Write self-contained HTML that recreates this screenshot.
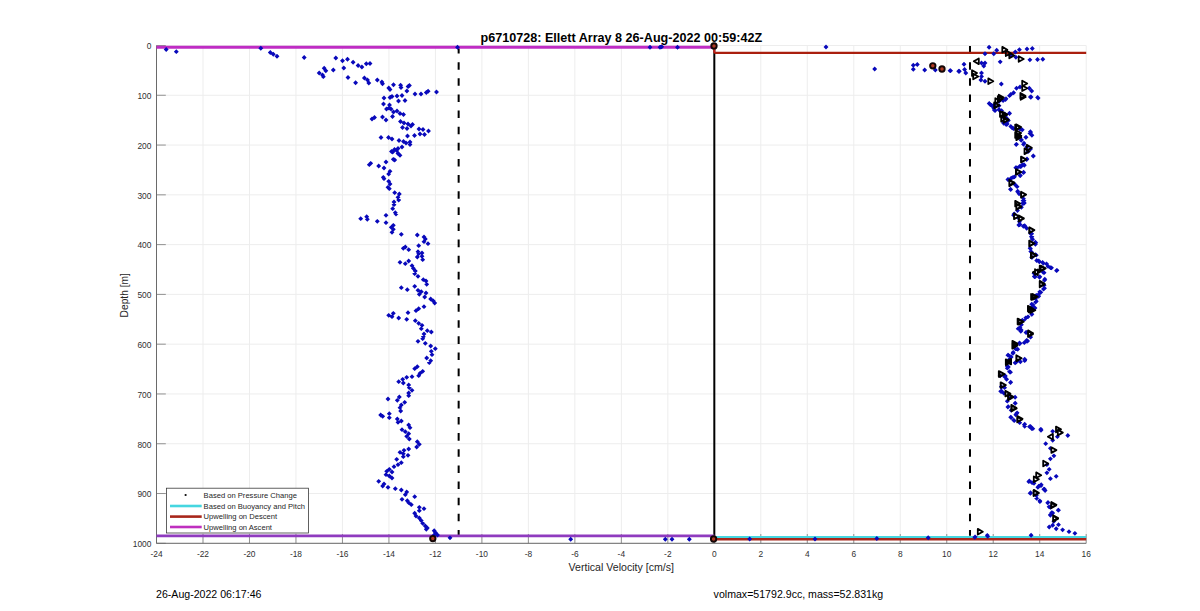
<!DOCTYPE html>
<html><head><meta charset="utf-8"><style>
html,body{margin:0;padding:0;background:#fff;}
svg{display:block;font-family:"Liberation Sans",sans-serif;}
</style></head><body>
<svg width="1200" height="611" viewBox="0 0 1200 611">
<path d="M156.50 45.50V543.30M202.99 45.50V543.30M249.47 45.50V543.30M295.96 45.50V543.30M342.44 45.50V543.30M388.93 45.50V543.30M435.41 45.50V543.30M481.90 45.50V543.30M528.38 45.50V543.30M574.87 45.50V543.30M621.35 45.50V543.30M667.84 45.50V543.30M714.32 45.50V543.30M760.81 45.50V543.30M807.29 45.50V543.30M853.77 45.50V543.30M900.26 45.50V543.30M946.75 45.50V543.30M993.23 45.50V543.30M1039.71 45.50V543.30M1086.20 45.50V543.30M156.50 45.50H1086.20M156.50 95.28H1086.20M156.50 145.06H1086.20M156.50 194.84H1086.20M156.50 244.62H1086.20M156.50 294.40H1086.20M156.50 344.18H1086.20M156.50 393.96H1086.20M156.50 443.74H1086.20M156.50 493.52H1086.20M156.50 543.30H1086.20" stroke="#ededed" stroke-width="1" fill="none"/>
<path d="M156.50 543.30v-9.3M202.99 543.30v-9.3M249.47 543.30v-9.3M295.96 543.30v-9.3M342.44 543.30v-9.3M388.93 543.30v-9.3M435.41 543.30v-9.3M481.90 543.30v-9.3M528.38 543.30v-9.3M574.87 543.30v-9.3M621.35 543.30v-9.3M667.84 543.30v-9.3M714.32 543.30v-9.3M760.81 543.30v-9.3M807.29 543.30v-9.3M853.77 543.30v-9.3M900.26 543.30v-9.3M946.75 543.30v-9.3M993.23 543.30v-9.3M1039.71 543.30v-9.3M1086.20 543.30v-9.3M156.50 45.50h9.3M156.50 95.28h9.3M156.50 145.06h9.3M156.50 194.84h9.3M156.50 244.62h9.3M156.50 294.40h9.3M156.50 344.18h9.3M156.50 393.96h9.3M156.50 443.74h9.3M156.50 493.52h9.3M156.50 543.30h9.3" stroke="#7a7a7a" stroke-width="0.8" fill="none"/>
<path d="M156.50 45.50V543.30H1086.20" stroke="#6a6a6a" stroke-width="1" fill="none"/>
<g font-size="8.4" fill="#303030"><text x="156.50" y="556.6" text-anchor="middle">-24</text><text x="202.99" y="556.6" text-anchor="middle">-22</text><text x="249.47" y="556.6" text-anchor="middle">-20</text><text x="295.96" y="556.6" text-anchor="middle">-18</text><text x="342.44" y="556.6" text-anchor="middle">-16</text><text x="388.93" y="556.6" text-anchor="middle">-14</text><text x="435.41" y="556.6" text-anchor="middle">-12</text><text x="481.90" y="556.6" text-anchor="middle">-10</text><text x="528.38" y="556.6" text-anchor="middle">-8</text><text x="574.87" y="556.6" text-anchor="middle">-6</text><text x="621.35" y="556.6" text-anchor="middle">-4</text><text x="667.84" y="556.6" text-anchor="middle">-2</text><text x="714.32" y="556.6" text-anchor="middle">0</text><text x="760.81" y="556.6" text-anchor="middle">2</text><text x="807.29" y="556.6" text-anchor="middle">4</text><text x="853.77" y="556.6" text-anchor="middle">6</text><text x="900.26" y="556.6" text-anchor="middle">8</text><text x="946.75" y="556.6" text-anchor="middle">10</text><text x="993.23" y="556.6" text-anchor="middle">12</text><text x="1039.71" y="556.6" text-anchor="middle">14</text><text x="1086.20" y="556.6" text-anchor="middle">16</text><text x="151.4" y="49.30" text-anchor="end">0</text><text x="151.4" y="99.08" text-anchor="end">100</text><text x="151.4" y="148.86" text-anchor="end">200</text><text x="151.4" y="198.64" text-anchor="end">300</text><text x="151.4" y="248.42" text-anchor="end">400</text><text x="151.4" y="298.20" text-anchor="end">500</text><text x="151.4" y="347.98" text-anchor="end">600</text><text x="151.4" y="397.76" text-anchor="end">700</text><text x="151.4" y="447.54" text-anchor="end">800</text><text x="151.4" y="497.32" text-anchor="end">900</text><text x="151.4" y="547.10" text-anchor="end">1000</text></g>
<text x="621.3" y="570.8" font-size="10.6" text-anchor="middle" fill="#262626">Vertical Velocity [cm/s]</text>
<text transform="translate(127.6 295.3) rotate(-90)" font-size="10.2" text-anchor="middle" fill="#262626">Depth [m]</text>
<text x="621.3" y="41.5" font-size="12.6" font-weight="bold" text-anchor="middle" fill="#000">p6710728: Ellett Array 8 26-Aug-2022 00:59:42Z</text>
<text x="156" y="598.2" font-size="10.6" fill="#000">26-Aug-2022 06:17:46</text>
<text x="713.6" y="598.2" font-size="10.6" fill="#000">volmax=51792.9cc, mass=52.831kg</text>
<path d="M458.65 46.00V535.83" stroke="#000" stroke-width="2" stroke-dasharray="7.6 8.53" fill="none"/>
<path d="M969.99 46.00V535.83" stroke="#000" stroke-width="2" stroke-dasharray="7.6 8.53" fill="none"/>
<path d="M714.32 45.50V535.83" stroke="#000" stroke-width="2" fill="none"/>
<path d="M156.50 47.29H714.32" stroke="#bf2cc4" stroke-width="3" fill="none"/>
<path d="M714.32 52.97H1086.20" stroke="#aa1f0e" stroke-width="2.2" fill="none"/>
<path d="M156.50 535.83H714.32" stroke="#8f3bbf" stroke-width="2.8" fill="none"/>
<path d="M714.32 537.08H1086.20" stroke="#45d6e0" stroke-width="2.4" fill="none"/>
<path d="M714.32 539.32H1086.20" stroke="#a8261a" stroke-width="2.4" fill="none"/>
<path d="M714.32 47.29V52.97" stroke="#c0201a" stroke-width="2" fill="none"/>
<path d="M166.2 47.0l2.45 2.45l-2.45 2.45l-2.45 -2.45zM176.3 49.2l2.45 2.45l-2.45 2.45l-2.45 -2.45zM260.8 45.8l2.45 2.45l-2.45 2.45l-2.45 -2.45zM270.3 50.0l2.45 2.45l-2.45 2.45l-2.45 -2.45zM273.3 51.8l2.45 2.45l-2.45 2.45l-2.45 -2.45zM277.0 53.8l2.45 2.45l-2.45 2.45l-2.45 -2.45zM304.2 55.0l2.45 2.45l-2.45 2.45l-2.45 -2.45zM335.8 55.5l2.45 2.45l-2.45 2.45l-2.45 -2.45zM342.5 58.3l2.45 2.45l-2.45 2.45l-2.45 -2.45zM347.5 56.8l2.45 2.45l-2.45 2.45l-2.45 -2.45zM343.8 65.5l2.45 2.45l-2.45 2.45l-2.45 -2.45zM333.3 67.5l2.45 2.45l-2.45 2.45l-2.45 -2.45zM324.2 65.8l2.45 2.45l-2.45 2.45l-2.45 -2.45zM325.8 68.3l2.45 2.45l-2.45 2.45l-2.45 -2.45zM319.2 70.5l2.45 2.45l-2.45 2.45l-2.45 -2.45zM322.5 72.5l2.45 2.45l-2.45 2.45l-2.45 -2.45zM323.3 74.2l2.45 2.45l-2.45 2.45l-2.45 -2.45zM348.0 75.0l2.45 2.45l-2.45 2.45l-2.45 -2.45zM353.1 59.8l2.45 2.45l-2.45 2.45l-2.45 -2.45zM358.1 63.1l2.45 2.45l-2.45 2.45l-2.45 -2.45zM361.9 64.5l2.45 2.45l-2.45 2.45l-2.45 -2.45zM366.3 61.3l2.45 2.45l-2.45 2.45l-2.45 -2.45zM370.0 61.0l2.45 2.45l-2.45 2.45l-2.45 -2.45zM355.6 80.3l2.45 2.45l-2.45 2.45l-2.45 -2.45zM364.4 75.6l2.45 2.45l-2.45 2.45l-2.45 -2.45zM367.5 77.5l2.45 2.45l-2.45 2.45l-2.45 -2.45zM368.8 80.6l2.45 2.45l-2.45 2.45l-2.45 -2.45zM377.3 77.5l2.45 2.45l-2.45 2.45l-2.45 -2.45zM381.9 79.5l2.45 2.45l-2.45 2.45l-2.45 -2.45zM382.5 81.3l2.45 2.45l-2.45 2.45l-2.45 -2.45zM388.8 85.6l2.45 2.45l-2.45 2.45l-2.45 -2.45zM390.0 87.0l2.45 2.45l-2.45 2.45l-2.45 -2.45zM393.5 82.3l2.45 2.45l-2.45 2.45l-2.45 -2.45zM400.6 82.8l2.45 2.45l-2.45 2.45l-2.45 -2.45zM401.0 85.0l2.45 2.45l-2.45 2.45l-2.45 -2.45zM408.1 84.0l2.45 2.45l-2.45 2.45l-2.45 -2.45zM409.4 83.1l2.45 2.45l-2.45 2.45l-2.45 -2.45zM406.9 88.5l2.45 2.45l-2.45 2.45l-2.45 -2.45zM415.0 91.5l2.45 2.45l-2.45 2.45l-2.45 -2.45zM421.0 91.5l2.45 2.45l-2.45 2.45l-2.45 -2.45zM426.3 90.0l2.45 2.45l-2.45 2.45l-2.45 -2.45zM428.1 88.8l2.45 2.45l-2.45 2.45l-2.45 -2.45zM436.5 89.5l2.45 2.45l-2.45 2.45l-2.45 -2.45zM457.5 44.8l2.45 2.45l-2.45 2.45l-2.45 -2.45zM384.0 95.5l2.45 2.45l-2.45 2.45l-2.45 -2.45zM390.0 95.0l2.45 2.45l-2.45 2.45l-2.45 -2.45zM392.0 94.0l2.45 2.45l-2.45 2.45l-2.45 -2.45zM397.0 93.5l2.45 2.45l-2.45 2.45l-2.45 -2.45zM402.0 93.0l2.45 2.45l-2.45 2.45l-2.45 -2.45zM398.5 98.5l2.45 2.45l-2.45 2.45l-2.45 -2.45zM405.0 98.0l2.45 2.45l-2.45 2.45l-2.45 -2.45zM383.5 101.5l2.45 2.45l-2.45 2.45l-2.45 -2.45zM389.5 102.5l2.45 2.45l-2.45 2.45l-2.45 -2.45zM389.0 105.5l2.45 2.45l-2.45 2.45l-2.45 -2.45zM386.5 106.5l2.45 2.45l-2.45 2.45l-2.45 -2.45zM391.0 106.5l2.45 2.45l-2.45 2.45l-2.45 -2.45zM393.5 109.5l2.45 2.45l-2.45 2.45l-2.45 -2.45zM397.0 108.5l2.45 2.45l-2.45 2.45l-2.45 -2.45zM400.0 111.0l2.45 2.45l-2.45 2.45l-2.45 -2.45zM403.5 112.0l2.45 2.45l-2.45 2.45l-2.45 -2.45zM392.5 114.0l2.45 2.45l-2.45 2.45l-2.45 -2.45zM382.5 114.5l2.45 2.45l-2.45 2.45l-2.45 -2.45zM386.0 117.5l2.45 2.45l-2.45 2.45l-2.45 -2.45zM372.0 116.5l2.45 2.45l-2.45 2.45l-2.45 -2.45zM374.5 115.0l2.45 2.45l-2.45 2.45l-2.45 -2.45zM400.5 119.0l2.45 2.45l-2.45 2.45l-2.45 -2.45zM404.0 120.5l2.45 2.45l-2.45 2.45l-2.45 -2.45zM408.0 121.5l2.45 2.45l-2.45 2.45l-2.45 -2.45zM411.0 123.5l2.45 2.45l-2.45 2.45l-2.45 -2.45zM412.5 122.0l2.45 2.45l-2.45 2.45l-2.45 -2.45zM402.5 125.0l2.45 2.45l-2.45 2.45l-2.45 -2.45zM407.0 126.0l2.45 2.45l-2.45 2.45l-2.45 -2.45zM419.0 126.5l2.45 2.45l-2.45 2.45l-2.45 -2.45zM423.0 127.0l2.45 2.45l-2.45 2.45l-2.45 -2.45zM428.5 128.6l2.45 2.45l-2.45 2.45l-2.45 -2.45zM420.0 131.6l2.45 2.45l-2.45 2.45l-2.45 -2.45zM424.5 132.1l2.45 2.45l-2.45 2.45l-2.45 -2.45zM414.5 133.1l2.45 2.45l-2.45 2.45l-2.45 -2.45zM407.5 133.6l2.45 2.45l-2.45 2.45l-2.45 -2.45zM381.0 135.1l2.45 2.45l-2.45 2.45l-2.45 -2.45zM388.5 135.1l2.45 2.45l-2.45 2.45l-2.45 -2.45zM392.0 136.6l2.45 2.45l-2.45 2.45l-2.45 -2.45zM399.0 138.1l2.45 2.45l-2.45 2.45l-2.45 -2.45zM403.5 139.1l2.45 2.45l-2.45 2.45l-2.45 -2.45zM406.0 140.6l2.45 2.45l-2.45 2.45l-2.45 -2.45zM410.0 139.6l2.45 2.45l-2.45 2.45l-2.45 -2.45zM410.0 142.1l2.45 2.45l-2.45 2.45l-2.45 -2.45zM402.0 144.6l2.45 2.45l-2.45 2.45l-2.45 -2.45zM398.0 146.1l2.45 2.45l-2.45 2.45l-2.45 -2.45zM394.5 147.1l2.45 2.45l-2.45 2.45l-2.45 -2.45zM391.5 149.1l2.45 2.45l-2.45 2.45l-2.45 -2.45zM398.0 151.1l2.45 2.45l-2.45 2.45l-2.45 -2.45zM392.7 149.6l2.45 2.45l-2.45 2.45l-2.45 -2.45zM396.7 148.2l2.45 2.45l-2.45 2.45l-2.45 -2.45zM400.0 152.9l2.45 2.45l-2.45 2.45l-2.45 -2.45zM398.7 151.6l2.45 2.45l-2.45 2.45l-2.45 -2.45zM393.3 156.9l2.45 2.45l-2.45 2.45l-2.45 -2.45zM394.7 157.6l2.45 2.45l-2.45 2.45l-2.45 -2.45zM386.0 159.6l2.45 2.45l-2.45 2.45l-2.45 -2.45zM370.7 160.9l2.45 2.45l-2.45 2.45l-2.45 -2.45zM369.3 162.2l2.45 2.45l-2.45 2.45l-2.45 -2.45zM378.7 163.6l2.45 2.45l-2.45 2.45l-2.45 -2.45zM384.0 165.6l2.45 2.45l-2.45 2.45l-2.45 -2.45zM390.0 168.9l2.45 2.45l-2.45 2.45l-2.45 -2.45zM388.7 171.6l2.45 2.45l-2.45 2.45l-2.45 -2.45zM383.3 174.9l2.45 2.45l-2.45 2.45l-2.45 -2.45zM384.0 176.2l2.45 2.45l-2.45 2.45l-2.45 -2.45zM388.7 178.9l2.45 2.45l-2.45 2.45l-2.45 -2.45zM390.0 181.6l2.45 2.45l-2.45 2.45l-2.45 -2.45zM388.0 184.9l2.45 2.45l-2.45 2.45l-2.45 -2.45zM389.3 186.2l2.45 2.45l-2.45 2.45l-2.45 -2.45zM394.7 190.2l2.45 2.45l-2.45 2.45l-2.45 -2.45zM399.3 191.6l2.45 2.45l-2.45 2.45l-2.45 -2.45zM398.0 194.9l2.45 2.45l-2.45 2.45l-2.45 -2.45zM398.7 197.6l2.45 2.45l-2.45 2.45l-2.45 -2.45zM394.0 199.6l2.45 2.45l-2.45 2.45l-2.45 -2.45zM394.0 202.2l2.45 2.45l-2.45 2.45l-2.45 -2.45zM392.7 206.2l2.45 2.45l-2.45 2.45l-2.45 -2.45zM395.3 210.2l2.45 2.45l-2.45 2.45l-2.45 -2.45zM396.0 211.6l2.45 2.45l-2.45 2.45l-2.45 -2.45zM386.0 212.9l2.45 2.45l-2.45 2.45l-2.45 -2.45zM360.7 216.2l2.45 2.45l-2.45 2.45l-2.45 -2.45zM366.7 214.2l2.45 2.45l-2.45 2.45l-2.45 -2.45zM367.3 216.9l2.45 2.45l-2.45 2.45l-2.45 -2.45zM377.3 218.9l2.45 2.45l-2.45 2.45l-2.45 -2.45zM386.0 220.2l2.45 2.45l-2.45 2.45l-2.45 -2.45zM393.3 222.9l2.45 2.45l-2.45 2.45l-2.45 -2.45zM391.3 224.9l2.45 2.45l-2.45 2.45l-2.45 -2.45zM393.3 226.9l2.45 2.45l-2.45 2.45l-2.45 -2.45zM392.0 229.9l2.45 2.45l-2.45 2.45l-2.45 -2.45zM401.3 231.9l2.45 2.45l-2.45 2.45l-2.45 -2.45zM417.3 232.6l2.45 2.45l-2.45 2.45l-2.45 -2.45zM424.0 234.6l2.45 2.45l-2.45 2.45l-2.45 -2.45zM425.3 236.6l2.45 2.45l-2.45 2.45l-2.45 -2.45zM424.0 239.2l2.45 2.45l-2.45 2.45l-2.45 -2.45zM428.0 241.2l2.45 2.45l-2.45 2.45l-2.45 -2.45zM418.7 243.2l2.45 2.45l-2.45 2.45l-2.45 -2.45zM403.3 245.9l2.45 2.45l-2.45 2.45l-2.45 -2.45zM405.3 244.6l2.45 2.45l-2.45 2.45l-2.45 -2.45zM408.7 247.2l2.45 2.45l-2.45 2.45l-2.45 -2.45zM418.0 249.2l2.45 2.45l-2.45 2.45l-2.45 -2.45zM422.0 250.6l2.45 2.45l-2.45 2.45l-2.45 -2.45zM418.7 251.2l2.45 2.45l-2.45 2.45l-2.45 -2.45zM422.0 253.9l2.45 2.45l-2.45 2.45l-2.45 -2.45zM417.3 254.6l2.45 2.45l-2.45 2.45l-2.45 -2.45zM422.7 257.2l2.45 2.45l-2.45 2.45l-2.45 -2.45zM400.0 259.9l2.45 2.45l-2.45 2.45l-2.45 -2.45zM405.3 261.2l2.45 2.45l-2.45 2.45l-2.45 -2.45zM408.7 258.6l2.45 2.45l-2.45 2.45l-2.45 -2.45zM412.0 263.2l2.45 2.45l-2.45 2.45l-2.45 -2.45zM413.3 265.9l2.45 2.45l-2.45 2.45l-2.45 -2.45zM415.3 268.6l2.45 2.45l-2.45 2.45l-2.45 -2.45zM414.7 271.2l2.45 2.45l-2.45 2.45l-2.45 -2.45zM418.0 273.9l2.45 2.45l-2.45 2.45l-2.45 -2.45zM423.3 277.2l2.45 2.45l-2.45 2.45l-2.45 -2.45zM426.0 278.6l2.45 2.45l-2.45 2.45l-2.45 -2.45zM426.7 281.9l2.45 2.45l-2.45 2.45l-2.45 -2.45zM401.3 285.2l2.45 2.45l-2.45 2.45l-2.45 -2.45zM407.3 287.2l2.45 2.45l-2.45 2.45l-2.45 -2.45zM414.7 283.9l2.45 2.45l-2.45 2.45l-2.45 -2.45zM418.0 287.9l2.45 2.45l-2.45 2.45l-2.45 -2.45zM421.3 289.2l2.45 2.45l-2.45 2.45l-2.45 -2.45zM426.0 290.6l2.45 2.45l-2.45 2.45l-2.45 -2.45zM419.3 291.9l2.45 2.45l-2.45 2.45l-2.45 -2.45zM424.7 294.6l2.45 2.45l-2.45 2.45l-2.45 -2.45zM430.7 296.6l2.45 2.45l-2.45 2.45l-2.45 -2.45zM433.3 298.6l2.45 2.45l-2.45 2.45l-2.45 -2.45zM434.7 300.6l2.45 2.45l-2.45 2.45l-2.45 -2.45zM424.0 304.2l2.45 2.45l-2.45 2.45l-2.45 -2.45zM418.7 306.2l2.45 2.45l-2.45 2.45l-2.45 -2.45zM416.0 308.2l2.45 2.45l-2.45 2.45l-2.45 -2.45zM408.0 310.2l2.45 2.45l-2.45 2.45l-2.45 -2.45zM393.3 310.9l2.45 2.45l-2.45 2.45l-2.45 -2.45zM388.7 312.9l2.45 2.45l-2.45 2.45l-2.45 -2.45zM392.0 314.2l2.45 2.45l-2.45 2.45l-2.45 -2.45zM398.7 315.6l2.45 2.45l-2.45 2.45l-2.45 -2.45zM406.7 316.9l2.45 2.45l-2.45 2.45l-2.45 -2.45zM415.3 318.2l2.45 2.45l-2.45 2.45l-2.45 -2.45zM418.7 320.9l2.45 2.45l-2.45 2.45l-2.45 -2.45zM422.0 322.9l2.45 2.45l-2.45 2.45l-2.45 -2.45zM421.3 326.2l2.45 2.45l-2.45 2.45l-2.45 -2.45zM427.3 328.2l2.45 2.45l-2.45 2.45l-2.45 -2.45zM431.3 329.6l2.45 2.45l-2.45 2.45l-2.45 -2.45zM424.0 331.6l2.45 2.45l-2.45 2.45l-2.45 -2.45zM423.3 334.2l2.45 2.45l-2.45 2.45l-2.45 -2.45zM422.7 336.2l2.45 2.45l-2.45 2.45l-2.45 -2.45zM418.0 338.9l2.45 2.45l-2.45 2.45l-2.45 -2.45zM425.3 340.9l2.45 2.45l-2.45 2.45l-2.45 -2.45zM430.7 343.6l2.45 2.45l-2.45 2.45l-2.45 -2.45zM435.3 346.2l2.45 2.45l-2.45 2.45l-2.45 -2.45zM431.3 348.9l2.45 2.45l-2.45 2.45l-2.45 -2.45zM432.0 352.2l2.45 2.45l-2.45 2.45l-2.45 -2.45zM426.7 355.6l2.45 2.45l-2.45 2.45l-2.45 -2.45zM430.7 358.2l2.45 2.45l-2.45 2.45l-2.45 -2.45zM429.3 360.2l2.45 2.45l-2.45 2.45l-2.45 -2.45zM417.3 364.2l2.45 2.45l-2.45 2.45l-2.45 -2.45zM414.7 366.2l2.45 2.45l-2.45 2.45l-2.45 -2.45zM422.7 368.9l2.45 2.45l-2.45 2.45l-2.45 -2.45zM420.0 370.9l2.45 2.45l-2.45 2.45l-2.45 -2.45zM412.0 374.2l2.45 2.45l-2.45 2.45l-2.45 -2.45zM406.7 374.9l2.45 2.45l-2.45 2.45l-2.45 -2.45zM402.7 376.9l2.45 2.45l-2.45 2.45l-2.45 -2.45zM418.7 373.2l2.45 2.45l-2.45 2.45l-2.45 -2.45zM398.7 379.2l2.45 2.45l-2.45 2.45l-2.45 -2.45zM403.3 380.6l2.45 2.45l-2.45 2.45l-2.45 -2.45zM408.7 382.6l2.45 2.45l-2.45 2.45l-2.45 -2.45zM409.3 385.2l2.45 2.45l-2.45 2.45l-2.45 -2.45zM412.0 387.9l2.45 2.45l-2.45 2.45l-2.45 -2.45zM408.7 390.6l2.45 2.45l-2.45 2.45l-2.45 -2.45zM408.7 393.2l2.45 2.45l-2.45 2.45l-2.45 -2.45zM399.3 394.6l2.45 2.45l-2.45 2.45l-2.45 -2.45zM388.0 396.6l2.45 2.45l-2.45 2.45l-2.45 -2.45zM397.3 397.9l2.45 2.45l-2.45 2.45l-2.45 -2.45zM404.7 399.9l2.45 2.45l-2.45 2.45l-2.45 -2.45zM401.3 402.6l2.45 2.45l-2.45 2.45l-2.45 -2.45zM400.0 405.2l2.45 2.45l-2.45 2.45l-2.45 -2.45zM400.7 408.6l2.45 2.45l-2.45 2.45l-2.45 -2.45zM389.3 411.2l2.45 2.45l-2.45 2.45l-2.45 -2.45zM380.7 412.6l2.45 2.45l-2.45 2.45l-2.45 -2.45zM382.7 413.9l2.45 2.45l-2.45 2.45l-2.45 -2.45zM389.3 415.2l2.45 2.45l-2.45 2.45l-2.45 -2.45zM397.3 416.6l2.45 2.45l-2.45 2.45l-2.45 -2.45zM401.3 418.6l2.45 2.45l-2.45 2.45l-2.45 -2.45zM398.0 419.9l2.45 2.45l-2.45 2.45l-2.45 -2.45zM408.7 422.6l2.45 2.45l-2.45 2.45l-2.45 -2.45zM410.0 425.2l2.45 2.45l-2.45 2.45l-2.45 -2.45zM402.0 427.2l2.45 2.45l-2.45 2.45l-2.45 -2.45zM405.3 429.2l2.45 2.45l-2.45 2.45l-2.45 -2.45zM408.7 431.2l2.45 2.45l-2.45 2.45l-2.45 -2.45zM406.7 433.9l2.45 2.45l-2.45 2.45l-2.45 -2.45zM409.3 436.6l2.45 2.45l-2.45 2.45l-2.45 -2.45zM417.3 439.2l2.45 2.45l-2.45 2.45l-2.45 -2.45zM419.3 441.9l2.45 2.45l-2.45 2.45l-2.45 -2.45zM416.7 444.6l2.45 2.45l-2.45 2.45l-2.45 -2.45zM408.7 446.6l2.45 2.45l-2.45 2.45l-2.45 -2.45zM404.0 447.9l2.45 2.45l-2.45 2.45l-2.45 -2.45zM400.0 449.9l2.45 2.45l-2.45 2.45l-2.45 -2.45zM403.3 451.2l2.45 2.45l-2.45 2.45l-2.45 -2.45zM408.0 452.9l2.45 2.45l-2.45 2.45l-2.45 -2.45zM403.3 454.2l2.45 2.45l-2.45 2.45l-2.45 -2.45zM396.7 456.9l2.45 2.45l-2.45 2.45l-2.45 -2.45zM401.3 460.2l2.45 2.45l-2.45 2.45l-2.45 -2.45zM398.0 462.2l2.45 2.45l-2.45 2.45l-2.45 -2.45zM394.0 464.2l2.45 2.45l-2.45 2.45l-2.45 -2.45zM389.3 466.9l2.45 2.45l-2.45 2.45l-2.45 -2.45zM386.7 468.9l2.45 2.45l-2.45 2.45l-2.45 -2.45zM392.0 469.6l2.45 2.45l-2.45 2.45l-2.45 -2.45zM386.0 472.2l2.45 2.45l-2.45 2.45l-2.45 -2.45zM389.3 473.6l2.45 2.45l-2.45 2.45l-2.45 -2.45zM392.0 475.6l2.45 2.45l-2.45 2.45l-2.45 -2.45zM378.7 478.9l2.45 2.45l-2.45 2.45l-2.45 -2.45zM384.0 481.6l2.45 2.45l-2.45 2.45l-2.45 -2.45zM382.7 483.6l2.45 2.45l-2.45 2.45l-2.45 -2.45zM388.0 484.9l2.45 2.45l-2.45 2.45l-2.45 -2.45zM395.3 486.2l2.45 2.45l-2.45 2.45l-2.45 -2.45zM401.3 487.6l2.45 2.45l-2.45 2.45l-2.45 -2.45zM406.7 489.6l2.45 2.45l-2.45 2.45l-2.45 -2.45zM405.3 492.2l2.45 2.45l-2.45 2.45l-2.45 -2.45zM414.7 494.2l2.45 2.45l-2.45 2.45l-2.45 -2.45zM402.0 496.9l2.45 2.45l-2.45 2.45l-2.45 -2.45zM407.3 498.2l2.45 2.45l-2.45 2.45l-2.45 -2.45zM408.7 500.2l2.45 2.45l-2.45 2.45l-2.45 -2.45zM411.3 502.2l2.45 2.45l-2.45 2.45l-2.45 -2.45zM419.3 504.9l2.45 2.45l-2.45 2.45l-2.45 -2.45zM424.0 506.2l2.45 2.45l-2.45 2.45l-2.45 -2.45zM419.3 508.2l2.45 2.45l-2.45 2.45l-2.45 -2.45zM414.7 510.8l2.45 2.45l-2.45 2.45l-2.45 -2.45zM416.0 513.5l2.45 2.45l-2.45 2.45l-2.45 -2.45zM419.3 515.5l2.45 2.45l-2.45 2.45l-2.45 -2.45zM421.3 518.2l2.45 2.45l-2.45 2.45l-2.45 -2.45zM422.7 520.8l2.45 2.45l-2.45 2.45l-2.45 -2.45zM425.3 523.5l2.45 2.45l-2.45 2.45l-2.45 -2.45zM427.3 525.5l2.45 2.45l-2.45 2.45l-2.45 -2.45zM426.3 526.8l2.45 2.45l-2.45 2.45l-2.45 -2.45zM434.2 528.3l2.45 2.45l-2.45 2.45l-2.45 -2.45zM435.4 530.0l2.45 2.45l-2.45 2.45l-2.45 -2.45zM437.5 532.5l2.45 2.45l-2.45 2.45l-2.45 -2.45zM434.2 532.5l2.45 2.45l-2.45 2.45l-2.45 -2.45zM450.0 535.4l2.45 2.45l-2.45 2.45l-2.45 -2.45zM570.7 536.8l2.45 2.45l-2.45 2.45l-2.45 -2.45zM665.3 536.8l2.45 2.45l-2.45 2.45l-2.45 -2.45zM672.0 536.8l2.45 2.45l-2.45 2.45l-2.45 -2.45zM689.3 536.8l2.45 2.45l-2.45 2.45l-2.45 -2.45zM650.0 44.8l2.45 2.45l-2.45 2.45l-2.45 -2.45zM660.0 44.8l2.45 2.45l-2.45 2.45l-2.45 -2.45zM661.7 44.3l2.45 2.45l-2.45 2.45l-2.45 -2.45zM677.5 44.8l2.45 2.45l-2.45 2.45l-2.45 -2.45zM826.0 44.6l2.45 2.45l-2.45 2.45l-2.45 -2.45zM874.7 66.5l2.45 2.45l-2.45 2.45l-2.45 -2.45zM913.3 62.8l2.45 2.45l-2.45 2.45l-2.45 -2.45zM917.3 62.0l2.45 2.45l-2.45 2.45l-2.45 -2.45zM913.3 66.8l2.45 2.45l-2.45 2.45l-2.45 -2.45zM924.7 67.5l2.45 2.45l-2.45 2.45l-2.45 -2.45zM935.3 67.5l2.45 2.45l-2.45 2.45l-2.45 -2.45zM950.0 68.2l2.45 2.45l-2.45 2.45l-2.45 -2.45zM958.7 68.8l2.45 2.45l-2.45 2.45l-2.45 -2.45zM989.1 44.8l2.45 2.45l-2.45 2.45l-2.45 -2.45zM985.0 51.3l2.45 2.45l-2.45 2.45l-2.45 -2.45zM993.8 51.3l2.45 2.45l-2.45 2.45l-2.45 -2.45zM996.7 47.8l2.45 2.45l-2.45 2.45l-2.45 -2.45zM1019.4 47.2l2.45 2.45l-2.45 2.45l-2.45 -2.45zM1027.0 46.6l2.45 2.45l-2.45 2.45l-2.45 -2.45zM1032.3 46.0l2.45 2.45l-2.45 2.45l-2.45 -2.45zM1029.9 57.4l2.45 2.45l-2.45 2.45l-2.45 -2.45zM1037.5 57.1l2.45 2.45l-2.45 2.45l-2.45 -2.45zM1042.8 56.8l2.45 2.45l-2.45 2.45l-2.45 -2.45zM1000.2 59.4l2.45 2.45l-2.45 2.45l-2.45 -2.45zM981.5 60.6l2.45 2.45l-2.45 2.45l-2.45 -2.45zM985.0 60.6l2.45 2.45l-2.45 2.45l-2.45 -2.45zM983.8 63.5l2.45 2.45l-2.45 2.45l-2.45 -2.45zM964.0 61.8l2.45 2.45l-2.45 2.45l-2.45 -2.45zM950.6 68.2l2.45 2.45l-2.45 2.45l-2.45 -2.45zM959.3 68.8l2.45 2.45l-2.45 2.45l-2.45 -2.45zM964.6 67.0l2.45 2.45l-2.45 2.45l-2.45 -2.45zM965.8 70.5l2.45 2.45l-2.45 2.45l-2.45 -2.45zM981.5 70.5l2.45 2.45l-2.45 2.45l-2.45 -2.45zM981.5 74.0l2.45 2.45l-2.45 2.45l-2.45 -2.45zM980.9 77.5l2.45 2.45l-2.45 2.45l-2.45 -2.45zM985.0 78.8l2.45 2.45l-2.45 2.45l-2.45 -2.45zM1001.3 81.6l2.45 2.45l-2.45 2.45l-2.45 -2.45zM1010.7 92.1l2.45 2.45l-2.45 2.45l-2.45 -2.45zM1013.6 90.3l2.45 2.45l-2.45 2.45l-2.45 -2.45zM1016.5 85.8l2.45 2.45l-2.45 2.45l-2.45 -2.45zM1020.0 84.5l2.45 2.45l-2.45 2.45l-2.45 -2.45zM1029.3 85.8l2.45 2.45l-2.45 2.45l-2.45 -2.45zM1031.7 88.6l2.45 2.45l-2.45 2.45l-2.45 -2.45zM1031.1 94.5l2.45 2.45l-2.45 2.45l-2.45 -2.45zM1038.1 95.6l2.45 2.45l-2.45 2.45l-2.45 -2.45zM1006.0 96.2l2.45 2.45l-2.45 2.45l-2.45 -2.45zM990.3 102.0l2.45 2.45l-2.45 2.45l-2.45 -2.45zM994.3 102.6l2.45 2.45l-2.45 2.45l-2.45 -2.45zM999.0 103.2l2.45 2.45l-2.45 2.45l-2.45 -2.45zM1015.3 49.5l2.45 2.45l-2.45 2.45l-2.45 -2.45zM1010.7 53.0l2.45 2.45l-2.45 2.45l-2.45 -2.45zM1015.9 54.8l2.45 2.45l-2.45 2.45l-2.45 -2.45zM989.7 101.6l2.45 2.45l-2.45 2.45l-2.45 -2.45zM993.2 104.5l2.45 2.45l-2.45 2.45l-2.45 -2.45zM994.3 107.5l2.45 2.45l-2.45 2.45l-2.45 -2.45zM999.0 98.8l2.45 2.45l-2.45 2.45l-2.45 -2.45zM1003.1 98.1l2.45 2.45l-2.45 2.45l-2.45 -2.45zM1000.2 108.6l2.45 2.45l-2.45 2.45l-2.45 -2.45zM1004.8 111.5l2.45 2.45l-2.45 2.45l-2.45 -2.45zM1009.5 111.0l2.45 2.45l-2.45 2.45l-2.45 -2.45zM1006.0 115.0l2.45 2.45l-2.45 2.45l-2.45 -2.45zM1008.3 118.0l2.45 2.45l-2.45 2.45l-2.45 -2.45zM1003.7 120.8l2.45 2.45l-2.45 2.45l-2.45 -2.45zM1007.2 121.5l2.45 2.45l-2.45 2.45l-2.45 -2.45zM1011.8 125.0l2.45 2.45l-2.45 2.45l-2.45 -2.45zM1020.0 126.7l2.45 2.45l-2.45 2.45l-2.45 -2.45zM1022.3 127.4l2.45 2.45l-2.45 2.45l-2.45 -2.45zM1030.5 130.2l2.45 2.45l-2.45 2.45l-2.45 -2.45zM1025.8 134.9l2.45 2.45l-2.45 2.45l-2.45 -2.45zM1021.2 137.9l2.45 2.45l-2.45 2.45l-2.45 -2.45zM1016.5 141.9l2.45 2.45l-2.45 2.45l-2.45 -2.45zM1023.5 141.9l2.45 2.45l-2.45 2.45l-2.45 -2.45zM1030.5 146.6l2.45 2.45l-2.45 2.45l-2.45 -2.45zM1033.4 153.6l2.45 2.45l-2.45 2.45l-2.45 -2.45zM1027.0 156.5l2.45 2.45l-2.45 2.45l-2.45 -2.45zM1022.3 162.4l2.45 2.45l-2.45 2.45l-2.45 -2.45zM1016.5 165.9l2.45 2.45l-2.45 2.45l-2.45 -2.45zM1016.5 165.5l2.45 2.45l-2.45 2.45l-2.45 -2.45zM1021.2 163.8l2.45 2.45l-2.45 2.45l-2.45 -2.45zM1020.0 173.1l2.45 2.45l-2.45 2.45l-2.45 -2.45zM1023.5 170.2l2.45 2.45l-2.45 2.45l-2.45 -2.45zM1008.3 177.2l2.45 2.45l-2.45 2.45l-2.45 -2.45zM1013.0 174.9l2.45 2.45l-2.45 2.45l-2.45 -2.45zM1015.3 182.4l2.45 2.45l-2.45 2.45l-2.45 -2.45zM1010.7 187.1l2.45 2.45l-2.45 2.45l-2.45 -2.45zM1017.7 189.4l2.45 2.45l-2.45 2.45l-2.45 -2.45zM1023.5 196.4l2.45 2.45l-2.45 2.45l-2.45 -2.45zM1022.9 201.1l2.45 2.45l-2.45 2.45l-2.45 -2.45zM1014.2 211.6l2.45 2.45l-2.45 2.45l-2.45 -2.45zM1020.0 222.1l2.45 2.45l-2.45 2.45l-2.45 -2.45zM1024.7 223.2l2.45 2.45l-2.45 2.45l-2.45 -2.45zM1031.7 231.4l2.45 2.45l-2.45 2.45l-2.45 -2.45zM1030.5 231.1l2.45 2.45l-2.45 2.45l-2.45 -2.45zM1031.7 234.6l2.45 2.45l-2.45 2.45l-2.45 -2.45zM1035.8 240.4l2.45 2.45l-2.45 2.45l-2.45 -2.45zM1030.5 246.2l2.45 2.45l-2.45 2.45l-2.45 -2.45zM1031.7 249.8l2.45 2.45l-2.45 2.45l-2.45 -2.45zM1036.3 252.7l2.45 2.45l-2.45 2.45l-2.45 -2.45zM1031.7 254.9l2.45 2.45l-2.45 2.45l-2.45 -2.45zM1038.7 258.4l2.45 2.45l-2.45 2.45l-2.45 -2.45zM1043.3 260.9l2.45 2.45l-2.45 2.45l-2.45 -2.45zM1048.0 263.8l2.45 2.45l-2.45 2.45l-2.45 -2.45zM1051.5 265.4l2.45 2.45l-2.45 2.45l-2.45 -2.45zM1056.8 267.9l2.45 2.45l-2.45 2.45l-2.45 -2.45zM1034.0 270.8l2.45 2.45l-2.45 2.45l-2.45 -2.45zM1035.2 274.2l2.45 2.45l-2.45 2.45l-2.45 -2.45zM1039.8 274.2l2.45 2.45l-2.45 2.45l-2.45 -2.45zM1044.5 277.8l2.45 2.45l-2.45 2.45l-2.45 -2.45zM1044.5 285.9l2.45 2.45l-2.45 2.45l-2.45 -2.45zM1039.8 289.4l2.45 2.45l-2.45 2.45l-2.45 -2.45zM1036.3 292.9l2.45 2.45l-2.45 2.45l-2.45 -2.45zM1038.7 293.8l2.45 2.45l-2.45 2.45l-2.45 -2.45zM1036.3 298.9l2.45 2.45l-2.45 2.45l-2.45 -2.45zM1032.8 302.4l2.45 2.45l-2.45 2.45l-2.45 -2.45zM1031.7 305.4l2.45 2.45l-2.45 2.45l-2.45 -2.45zM1031.7 311.9l2.45 2.45l-2.45 2.45l-2.45 -2.45zM1025.8 315.4l2.45 2.45l-2.45 2.45l-2.45 -2.45zM1022.3 317.7l2.45 2.45l-2.45 2.45l-2.45 -2.45zM1020.0 325.2l2.45 2.45l-2.45 2.45l-2.45 -2.45zM1021.2 327.6l2.45 2.45l-2.45 2.45l-2.45 -2.45zM1027.0 329.9l2.45 2.45l-2.45 2.45l-2.45 -2.45zM1030.5 334.6l2.45 2.45l-2.45 2.45l-2.45 -2.45zM1027.0 338.7l2.45 2.45l-2.45 2.45l-2.45 -2.45zM1020.0 340.9l2.45 2.45l-2.45 2.45l-2.45 -2.45zM1015.3 346.2l2.45 2.45l-2.45 2.45l-2.45 -2.45zM1013.0 350.9l2.45 2.45l-2.45 2.45l-2.45 -2.45zM1008.3 352.7l2.45 2.45l-2.45 2.45l-2.45 -2.45zM1024.7 356.8l2.45 2.45l-2.45 2.45l-2.45 -2.45zM1009.5 356.8l2.45 2.45l-2.45 2.45l-2.45 -2.45zM1024.7 358.2l2.45 2.45l-2.45 2.45l-2.45 -2.45zM1016.5 359.4l2.45 2.45l-2.45 2.45l-2.45 -2.45zM1008.3 364.6l2.45 2.45l-2.45 2.45l-2.45 -2.45zM1009.5 369.2l2.45 2.45l-2.45 2.45l-2.45 -2.45zM1000.2 373.4l2.45 2.45l-2.45 2.45l-2.45 -2.45zM1010.7 379.8l2.45 2.45l-2.45 2.45l-2.45 -2.45zM1001.3 384.4l2.45 2.45l-2.45 2.45l-2.45 -2.45zM1001.3 389.1l2.45 2.45l-2.45 2.45l-2.45 -2.45zM1010.7 394.9l2.45 2.45l-2.45 2.45l-2.45 -2.45zM1015.3 400.8l2.45 2.45l-2.45 2.45l-2.45 -2.45zM1008.3 404.2l2.45 2.45l-2.45 2.45l-2.45 -2.45zM1016.5 411.2l2.45 2.45l-2.45 2.45l-2.45 -2.45zM1010.7 414.8l2.45 2.45l-2.45 2.45l-2.45 -2.45zM1014.2 418.2l2.45 2.45l-2.45 2.45l-2.45 -2.45zM1024.7 421.8l2.45 2.45l-2.45 2.45l-2.45 -2.45zM1030.5 424.1l2.45 2.45l-2.45 2.45l-2.45 -2.45zM1041.0 426.9l2.45 2.45l-2.45 2.45l-2.45 -2.45zM1024.7 423.8l2.45 2.45l-2.45 2.45l-2.45 -2.45zM1031.7 426.1l2.45 2.45l-2.45 2.45l-2.45 -2.45zM1041.0 427.9l2.45 2.45l-2.45 2.45l-2.45 -2.45zM1052.7 428.9l2.45 2.45l-2.45 2.45l-2.45 -2.45zM1067.8 433.1l2.45 2.45l-2.45 2.45l-2.45 -2.45zM1057.4 434.2l2.45 2.45l-2.45 2.45l-2.45 -2.45zM1052.7 437.8l2.45 2.45l-2.45 2.45l-2.45 -2.45zM1045.7 441.2l2.45 2.45l-2.45 2.45l-2.45 -2.45zM1050.4 445.9l2.45 2.45l-2.45 2.45l-2.45 -2.45zM1053.9 453.4l2.45 2.45l-2.45 2.45l-2.45 -2.45zM1050.4 456.4l2.45 2.45l-2.45 2.45l-2.45 -2.45zM1046.9 462.2l2.45 2.45l-2.45 2.45l-2.45 -2.45zM1049.2 466.9l2.45 2.45l-2.45 2.45l-2.45 -2.45zM1046.9 470.4l2.45 2.45l-2.45 2.45l-2.45 -2.45zM1056.2 473.9l2.45 2.45l-2.45 2.45l-2.45 -2.45zM1050.4 476.2l2.45 2.45l-2.45 2.45l-2.45 -2.45zM1029.3 478.6l2.45 2.45l-2.45 2.45l-2.45 -2.45zM1034.0 480.9l2.45 2.45l-2.45 2.45l-2.45 -2.45zM1041.0 483.2l2.45 2.45l-2.45 2.45l-2.45 -2.45zM1044.5 486.8l2.45 2.45l-2.45 2.45l-2.45 -2.45zM1030.5 490.2l2.45 2.45l-2.45 2.45l-2.45 -2.45zM1038.7 483.8l2.45 2.45l-2.45 2.45l-2.45 -2.45zM1044.5 487.2l2.45 2.45l-2.45 2.45l-2.45 -2.45zM1030.5 490.8l2.45 2.45l-2.45 2.45l-2.45 -2.45zM1036.3 493.1l2.45 2.45l-2.45 2.45l-2.45 -2.45zM1039.8 498.4l2.45 2.45l-2.45 2.45l-2.45 -2.45zM1048.0 500.1l2.45 2.45l-2.45 2.45l-2.45 -2.45zM1050.4 504.8l2.45 2.45l-2.45 2.45l-2.45 -2.45zM1058.5 507.7l2.45 2.45l-2.45 2.45l-2.45 -2.45zM1052.7 510.6l2.45 2.45l-2.45 2.45l-2.45 -2.45zM1050.4 512.3l2.45 2.45l-2.45 2.45l-2.45 -2.45zM1053.9 518.8l2.45 2.45l-2.45 2.45l-2.45 -2.45zM1058.5 522.2l2.45 2.45l-2.45 2.45l-2.45 -2.45zM1049.2 524.5l2.45 2.45l-2.45 2.45l-2.45 -2.45zM1052.7 522.8l2.45 2.45l-2.45 2.45l-2.45 -2.45zM1056.2 526.3l2.45 2.45l-2.45 2.45l-2.45 -2.45zM1062.6 527.4l2.45 2.45l-2.45 2.45l-2.45 -2.45zM1069.0 529.2l2.45 2.45l-2.45 2.45l-2.45 -2.45zM1074.9 530.9l2.45 2.45l-2.45 2.45l-2.45 -2.45zM1031.1 532.8l2.45 2.45l-2.45 2.45l-2.45 -2.45zM987.3 532.9l2.45 2.45l-2.45 2.45l-2.45 -2.45zM975.1 534.4l2.45 2.45l-2.45 2.45l-2.45 -2.45zM749.7 536.5l2.45 2.45l-2.45 2.45l-2.45 -2.45zM815.0 536.5l2.45 2.45l-2.45 2.45l-2.45 -2.45zM876.8 536.0l2.45 2.45l-2.45 2.45l-2.45 -2.45zM928.2 535.3l2.45 2.45l-2.45 2.45l-2.45 -2.45zM974.8 534.8l2.45 2.45l-2.45 2.45l-2.45 -2.45zM987.7 533.8l2.45 2.45l-2.45 2.45l-2.45 -2.45zM989.2 101.0l2.45 2.45l-2.45 2.45l-2.45 -2.45zM991.8 103.0l2.45 2.45l-2.45 2.45l-2.45 -2.45zM993.8 105.6l2.45 2.45l-2.45 2.45l-2.45 -2.45zM995.1 108.0l2.45 2.45l-2.45 2.45l-2.45 -2.45zM999.0 107.0l2.45 2.45l-2.45 2.45l-2.45 -2.45zM1001.6 108.2l2.45 2.45l-2.45 2.45l-2.45 -2.45zM1005.5 97.1l2.45 2.45l-2.45 2.45l-2.45 -2.45zM1009.5 93.2l2.45 2.45l-2.45 2.45l-2.45 -2.45zM1009.5 110.8l2.45 2.45l-2.45 2.45l-2.45 -2.45zM1002.9 114.1l2.45 2.45l-2.45 2.45l-2.45 -2.45zM1007.5 116.8l2.45 2.45l-2.45 2.45l-2.45 -2.45zM1003.6 120.0l2.45 2.45l-2.45 2.45l-2.45 -2.45zM1006.2 122.0l2.45 2.45l-2.45 2.45l-2.45 -2.45zM1010.8 124.0l2.45 2.45l-2.45 2.45l-2.45 -2.45zM1013.4 126.0l2.45 2.45l-2.45 2.45l-2.45 -2.45zM1021.9 127.2l2.45 2.45l-2.45 2.45l-2.45 -2.45zM1030.4 129.2l2.45 2.45l-2.45 2.45l-2.45 -2.45zM1030.4 94.5l2.45 2.45l-2.45 2.45l-2.45 -2.45zM1037.6 95.1l2.45 2.45l-2.45 2.45l-2.45 -2.45zM1029.9 130.9l2.45 2.45l-2.45 2.45l-2.45 -2.45zM1031.9 132.8l2.45 2.45l-2.45 2.45l-2.45 -2.45zM1026.0 134.8l2.45 2.45l-2.45 2.45l-2.45 -2.45zM1021.4 137.4l2.45 2.45l-2.45 2.45l-2.45 -2.45zM1016.2 142.0l2.45 2.45l-2.45 2.45l-2.45 -2.45zM1024.0 140.7l2.45 2.45l-2.45 2.45l-2.45 -2.45zM1026.7 144.6l2.45 2.45l-2.45 2.45l-2.45 -2.45zM1028.0 149.2l2.45 2.45l-2.45 2.45l-2.45 -2.45zM1033.2 153.5l2.45 2.45l-2.45 2.45l-2.45 -2.45zM1026.7 157.1l2.45 2.45l-2.45 2.45l-2.45 -2.45zM1024.0 162.2l2.45 2.45l-2.45 2.45l-2.45 -2.45zM1016.9 165.6l2.45 2.45l-2.45 2.45l-2.45 -2.45zM1020.8 164.2l2.45 2.45l-2.45 2.45l-2.45 -2.45zM1015.8 165.2l2.45 2.45l-2.45 2.45l-2.45 -2.45zM1019.7 163.9l2.45 2.45l-2.45 2.45l-2.45 -2.45zM1024.3 162.9l2.45 2.45l-2.45 2.45l-2.45 -2.45zM1023.6 169.8l2.45 2.45l-2.45 2.45l-2.45 -2.45zM1020.4 173.1l2.45 2.45l-2.45 2.45l-2.45 -2.45zM1014.5 174.4l2.45 2.45l-2.45 2.45l-2.45 -2.45zM1007.9 177.0l2.45 2.45l-2.45 2.45l-2.45 -2.45zM1011.2 175.7l2.45 2.45l-2.45 2.45l-2.45 -2.45zM1014.5 181.6l2.45 2.45l-2.45 2.45l-2.45 -2.45zM1017.1 184.2l2.45 2.45l-2.45 2.45l-2.45 -2.45zM1010.5 186.8l2.45 2.45l-2.45 2.45l-2.45 -2.45zM1017.7 188.8l2.45 2.45l-2.45 2.45l-2.45 -2.45zM1019.1 191.4l2.45 2.45l-2.45 2.45l-2.45 -2.45zM1023.0 198.0l2.45 2.45l-2.45 2.45l-2.45 -2.45zM1024.3 200.6l2.45 2.45l-2.45 2.45l-2.45 -2.45zM1024.0 198.2l2.45 2.45l-2.45 2.45l-2.45 -2.45zM1022.7 200.9l2.45 2.45l-2.45 2.45l-2.45 -2.45zM1021.4 204.8l2.45 2.45l-2.45 2.45l-2.45 -2.45zM1017.5 208.1l2.45 2.45l-2.45 2.45l-2.45 -2.45zM1014.2 211.4l2.45 2.45l-2.45 2.45l-2.45 -2.45zM1013.6 212.7l2.45 2.45l-2.45 2.45l-2.45 -2.45zM1018.2 215.2l2.45 2.45l-2.45 2.45l-2.45 -2.45zM1019.5 219.2l2.45 2.45l-2.45 2.45l-2.45 -2.45zM1018.8 222.5l2.45 2.45l-2.45 2.45l-2.45 -2.45zM1023.4 223.8l2.45 2.45l-2.45 2.45l-2.45 -2.45zM1026.7 225.8l2.45 2.45l-2.45 2.45l-2.45 -2.45zM1030.6 230.2l2.45 2.45l-2.45 2.45l-2.45 -2.45zM1031.9 234.2l2.45 2.45l-2.45 2.45l-2.45 -2.45zM1032.6 236.9l2.45 2.45l-2.45 2.45l-2.45 -2.45zM1031.4 233.9l2.45 2.45l-2.45 2.45l-2.45 -2.45zM1032.1 236.5l2.45 2.45l-2.45 2.45l-2.45 -2.45zM1035.4 239.8l2.45 2.45l-2.45 2.45l-2.45 -2.45zM1035.4 241.8l2.45 2.45l-2.45 2.45l-2.45 -2.45zM1030.1 245.7l2.45 2.45l-2.45 2.45l-2.45 -2.45zM1030.8 249.0l2.45 2.45l-2.45 2.45l-2.45 -2.45zM1035.4 252.2l2.45 2.45l-2.45 2.45l-2.45 -2.45zM1032.1 254.9l2.45 2.45l-2.45 2.45l-2.45 -2.45zM1036.7 258.1l2.45 2.45l-2.45 2.45l-2.45 -2.45zM1039.3 259.4l2.45 2.45l-2.45 2.45l-2.45 -2.45zM1042.6 260.1l2.45 2.45l-2.45 2.45l-2.45 -2.45zM1046.5 261.4l2.45 2.45l-2.45 2.45l-2.45 -2.45zM1050.4 265.2l2.45 2.45l-2.45 2.45l-2.45 -2.45zM1057.0 267.9l2.45 2.45l-2.45 2.45l-2.45 -2.45zM1043.2 269.9l2.45 2.45l-2.45 2.45l-2.45 -2.45zM1034.3 270.9l2.45 2.45l-2.45 2.45l-2.45 -2.45zM1034.3 274.1l2.45 2.45l-2.45 2.45l-2.45 -2.45zM1039.5 274.8l2.45 2.45l-2.45 2.45l-2.45 -2.45zM1044.1 270.2l2.45 2.45l-2.45 2.45l-2.45 -2.45zM1056.6 268.2l2.45 2.45l-2.45 2.45l-2.45 -2.45zM1044.8 276.8l2.45 2.45l-2.45 2.45l-2.45 -2.45zM1044.1 282.7l2.45 2.45l-2.45 2.45l-2.45 -2.45zM1043.5 286.6l2.45 2.45l-2.45 2.45l-2.45 -2.45zM1040.8 289.9l2.45 2.45l-2.45 2.45l-2.45 -2.45zM1038.2 292.4l2.45 2.45l-2.45 2.45l-2.45 -2.45zM1035.6 296.4l2.45 2.45l-2.45 2.45l-2.45 -2.45zM1035.6 299.7l2.45 2.45l-2.45 2.45l-2.45 -2.45zM1031.7 301.7l2.45 2.45l-2.45 2.45l-2.45 -2.45zM1032.3 304.2l2.45 2.45l-2.45 2.45l-2.45 -2.45zM1035.0 305.6l2.45 2.45l-2.45 2.45l-2.45 -2.45zM1034.5 305.2l2.45 2.45l-2.45 2.45l-2.45 -2.45zM1031.9 311.8l2.45 2.45l-2.45 2.45l-2.45 -2.45zM1028.0 314.4l2.45 2.45l-2.45 2.45l-2.45 -2.45zM1024.7 316.9l2.45 2.45l-2.45 2.45l-2.45 -2.45zM1021.4 322.2l2.45 2.45l-2.45 2.45l-2.45 -2.45zM1018.2 326.2l2.45 2.45l-2.45 2.45l-2.45 -2.45zM1020.8 328.8l2.45 2.45l-2.45 2.45l-2.45 -2.45zM1026.0 330.1l2.45 2.45l-2.45 2.45l-2.45 -2.45zM1030.6 334.7l2.45 2.45l-2.45 2.45l-2.45 -2.45zM1026.7 337.9l2.45 2.45l-2.45 2.45l-2.45 -2.45zM1019.5 340.6l2.45 2.45l-2.45 2.45l-2.45 -2.45zM1027.6 338.6l2.45 2.45l-2.45 2.45l-2.45 -2.45zM1024.3 340.2l2.45 2.45l-2.45 2.45l-2.45 -2.45zM1019.7 341.4l2.45 2.45l-2.45 2.45l-2.45 -2.45zM1017.7 346.8l2.45 2.45l-2.45 2.45l-2.45 -2.45zM1013.2 349.9l2.45 2.45l-2.45 2.45l-2.45 -2.45zM1007.9 352.7l2.45 2.45l-2.45 2.45l-2.45 -2.45zM1011.2 354.6l2.45 2.45l-2.45 2.45l-2.45 -2.45zM1015.8 359.9l2.45 2.45l-2.45 2.45l-2.45 -2.45zM1020.4 359.2l2.45 2.45l-2.45 2.45l-2.45 -2.45zM1025.0 357.2l2.45 2.45l-2.45 2.45l-2.45 -2.45zM1007.3 364.4l2.45 2.45l-2.45 2.45l-2.45 -2.45zM1010.5 369.7l2.45 2.45l-2.45 2.45l-2.45 -2.45zM1004.6 374.2l2.45 2.45l-2.45 2.45l-2.45 -2.45zM1025.0 357.4l2.45 2.45l-2.45 2.45l-2.45 -2.45zM1020.4 359.4l2.45 2.45l-2.45 2.45l-2.45 -2.45zM1015.1 360.4l2.45 2.45l-2.45 2.45l-2.45 -2.45zM1009.9 353.9l2.45 2.45l-2.45 2.45l-2.45 -2.45zM1007.3 365.7l2.45 2.45l-2.45 2.45l-2.45 -2.45zM1009.9 369.6l2.45 2.45l-2.45 2.45l-2.45 -2.45zM1005.3 373.6l2.45 2.45l-2.45 2.45l-2.45 -2.45zM1006.6 376.8l2.45 2.45l-2.45 2.45l-2.45 -2.45zM1010.5 380.1l2.45 2.45l-2.45 2.45l-2.45 -2.45zM1004.6 385.2l2.45 2.45l-2.45 2.45l-2.45 -2.45zM1001.4 388.6l2.45 2.45l-2.45 2.45l-2.45 -2.45zM1000.7 388.9l2.45 2.45l-2.45 2.45l-2.45 -2.45zM1004.0 390.9l2.45 2.45l-2.45 2.45l-2.45 -2.45zM1015.1 394.8l2.45 2.45l-2.45 2.45l-2.45 -2.45zM1007.3 398.7l2.45 2.45l-2.45 2.45l-2.45 -2.45zM1015.1 400.7l2.45 2.45l-2.45 2.45l-2.45 -2.45zM1007.9 404.6l2.45 2.45l-2.45 2.45l-2.45 -2.45zM1011.2 407.9l2.45 2.45l-2.45 2.45l-2.45 -2.45zM1017.1 410.4l2.45 2.45l-2.45 2.45l-2.45 -2.45zM1015.8 412.4l2.45 2.45l-2.45 2.45l-2.45 -2.45zM1011.2 415.1l2.45 2.45l-2.45 2.45l-2.45 -2.45zM1013.8 417.7l2.45 2.45l-2.45 2.45l-2.45 -2.45zM1019.7 420.2l2.45 2.45l-2.45 2.45l-2.45 -2.45zM1024.3 422.2l2.45 2.45l-2.45 2.45l-2.45 -2.45zM1029.5 424.2l2.45 2.45l-2.45 2.45l-2.45 -2.45zM1032.8 426.2l2.45 2.45l-2.45 2.45l-2.45 -2.45zM1040.7 426.9l2.45 2.45l-2.45 2.45l-2.45 -2.45zM1028.8 479.2l2.45 2.45l-2.45 2.45l-2.45 -2.45zM1032.0 480.2l2.45 2.45l-2.45 2.45l-2.45 -2.45zM1041.2 482.2l2.45 2.45l-2.45 2.45l-2.45 -2.45zM1037.9 484.8l2.45 2.45l-2.45 2.45l-2.45 -2.45zM1043.8 486.8l2.45 2.45l-2.45 2.45l-2.45 -2.45zM1045.1 488.1l2.45 2.45l-2.45 2.45l-2.45 -2.45zM1030.1 490.7l2.45 2.45l-2.45 2.45l-2.45 -2.45zM1036.6 495.9l2.45 2.45l-2.45 2.45l-2.45 -2.45zM1039.9 499.2l2.45 2.45l-2.45 2.45l-2.45 -2.45zM1047.7 500.4l2.45 2.45l-2.45 2.45l-2.45 -2.45zM1049.1 504.4l2.45 2.45l-2.45 2.45l-2.45 -2.45zM1058.2 507.7l2.45 2.45l-2.45 2.45l-2.45 -2.45zM1051.7 510.3l2.45 2.45l-2.45 2.45l-2.45 -2.45zM1050.4 512.9l2.45 2.45l-2.45 2.45l-2.45 -2.45z" fill="#0909bb"/>
<path d="M1002.3 46.9L1007.3 49.7L1002.3 52.5zM1005.8 50.4L1010.8 53.2L1005.8 56.0zM1009.3 52.7L1014.3 55.5L1009.3 58.3zM1018.7 56.2L1023.7 59.0L1018.7 61.8zM978.8 58.5L973.8 61.3L978.8 64.1zM972.0 70.2L977.0 73.0L972.0 75.8zM973.2 73.7L978.2 76.5L973.2 79.3zM988.3 78.4L993.3 81.2L988.3 84.0zM1022.2 80.7L1027.2 83.5L1022.2 86.3zM1022.2 85.4L1027.2 88.2L1022.2 91.0zM1020.4 93.0L1025.4 95.8L1020.4 98.6zM998.8 94.7L1003.8 97.5L998.8 100.3zM995.3 98.2L1000.3 101.0L995.3 103.8zM994.2 102.3L999.2 105.1L994.2 107.9zM1000.0 111.2L1005.0 114.0L1000.0 116.8zM1001.2 115.9L1006.2 118.7L1001.2 121.5zM1015.2 124.6L1020.2 127.4L1015.2 130.2zM1015.2 132.2L1020.2 135.0L1015.2 137.8zM1016.3 134.5L1021.3 137.3L1016.3 140.1zM1026.8 145.0L1031.8 147.8L1026.8 150.6zM1024.5 148.5L1029.5 151.3L1024.5 154.1zM1021.0 156.7L1026.0 159.5L1021.0 162.3zM1016.3 169.2L1021.3 172.0L1016.3 174.8zM1009.3 179.7L1014.3 182.5L1009.3 185.3zM1021.0 192.0L1026.0 194.8L1021.0 197.6zM1016.3 204.2L1021.3 207.0L1016.3 209.8zM1018.7 215.9L1023.7 218.7L1018.7 221.5zM1014.0 213.5L1019.0 216.3L1014.0 219.1zM1029.2 227.5L1034.2 230.3L1029.2 233.1zM1029.2 240.6L1034.2 243.4L1029.2 246.2zM1031.5 252.3L1036.5 255.1L1031.5 257.9zM1039.7 265.7L1044.7 268.5L1039.7 271.3zM1035.0 269.2L1040.0 272.0L1035.0 274.8zM1039.7 280.9L1044.7 283.7L1039.7 286.5zM1031.5 294.3L1036.5 297.1L1031.5 299.9zM1032.7 294.0L1037.7 296.8L1032.7 299.6zM1030.3 307.4L1035.3 310.2L1030.3 313.0zM1018.7 319.0L1023.7 321.8L1018.7 324.6zM1028.0 331.3L1033.0 334.1L1028.0 336.9zM1012.3 343.0L1017.3 345.8L1012.3 348.6zM1016.3 355.2L1021.3 358.0L1016.3 360.8zM1005.8 359.3L1010.8 362.1L1005.8 364.9zM1005.8 359.5L1010.8 362.3L1005.8 365.1zM998.8 371.2L1003.8 374.0L998.8 376.8zM1000.6 382.3L1005.6 385.1L1000.6 387.9zM1008.2 394.5L1013.2 397.3L1008.2 400.1zM1011.7 405.6L1016.7 408.4L1011.7 411.2zM1017.5 416.1L1022.5 418.9L1017.5 421.7zM1056.0 426.6L1061.0 429.4L1056.0 432.2zM1057.8 429.8L1062.8 432.6L1057.8 435.4zM1052.9 433.9L1047.9 436.7L1052.9 439.5zM1051.4 447.3L1056.4 450.1L1051.4 452.9zM1043.2 460.7L1048.2 463.5L1043.2 466.3zM1036.2 472.4L1041.2 475.2L1036.2 478.0zM1033.8 476.5L1038.8 479.3L1033.8 482.1zM1033.8 489.9L1038.8 492.7L1033.8 495.5zM1033.8 490.4L1038.8 493.2L1033.8 496.0zM1051.4 502.0L1056.4 504.8L1051.4 507.6zM1053.1 516.0L1058.1 518.8L1053.1 521.6zM977.8 528.9L982.8 531.7L977.8 534.5zM997.8 96.1L1002.8 98.9L997.8 101.7zM994.5 102.7L999.5 105.5L994.5 108.3zM1002.4 111.8L1007.4 114.6L1002.4 117.4zM1003.7 117.1L1008.7 119.9L1003.7 122.7zM1016.1 124.3L1021.1 127.1L1016.1 129.9zM1020.7 94.2L1025.7 97.0L1020.7 99.8zM1016.1 130.2L1021.1 133.0L1016.1 135.8zM1016.3 133.1L1021.3 135.9L1016.3 138.7zM1026.8 144.9L1031.8 147.7L1026.8 150.5zM1021.5 156.7L1026.5 159.5L1021.5 162.3zM1015.9 169.1L1020.9 171.9L1015.9 174.7zM1009.3 180.5L1014.3 183.3L1009.3 186.1zM1021.1 191.7L1026.1 194.5L1021.1 197.3zM1015.2 200.8L1020.2 203.6L1015.2 206.4zM1016.3 203.7L1021.3 206.5L1016.3 209.3zM1018.9 215.5L1023.9 218.3L1018.9 221.1zM1029.4 227.3L1034.4 230.1L1029.4 232.9zM1029.6 240.7L1034.6 243.5L1029.6 246.3zM1030.9 252.5L1035.9 255.3L1030.9 258.1zM1040.7 265.6L1045.7 268.4L1040.7 271.2zM1039.7 281.6L1044.7 284.4L1039.7 287.2zM1031.1 294.0L1036.1 296.8L1031.1 299.6zM1027.9 305.8L1032.9 308.6L1027.9 311.4zM1028.8 306.8L1033.8 309.6L1028.8 312.4zM1017.6 318.6L1022.6 321.4L1017.6 324.2zM1028.1 330.4L1033.1 333.2L1028.1 336.0zM1012.4 340.8L1017.4 343.6L1012.4 346.4zM1012.6 342.4L1017.6 345.2L1012.6 348.0zM1016.6 355.5L1021.6 358.3L1016.6 361.1zM999.5 371.3L1004.5 374.1L999.5 376.9zM1000.8 382.3L1005.8 385.1L1000.8 387.9zM1005.4 390.8L1010.4 393.6L1005.4 396.4zM1008.0 393.7L1013.0 396.5L1008.0 399.3zM1011.3 404.9L1016.3 407.7L1011.3 410.5zM1017.2 416.7L1022.2 419.5L1017.2 422.3zM1033.5 490.3L1038.5 493.1L1033.5 495.9zM1051.1 502.7L1056.1 505.5L1051.1 508.3zM1053.1 515.2L1058.1 518.0L1053.1 520.8zM1037.9 269.5L1032.9 272.3L1037.9 275.1zM1011.1 358.8L1006.1 361.6L1011.1 364.4z" fill="none" stroke="#000" stroke-width="1.8" stroke-linejoin="round"/>
<circle cx="714.0" cy="45.9" r="2.7" fill="#b03a22" stroke="#140606" stroke-width="1.9"/>
<circle cx="713.6" cy="539.0" r="2.7" fill="#b03a22" stroke="#140606" stroke-width="1.9"/>
<circle cx="432.8" cy="538.6" r="2.7" fill="#b03a22" stroke="#140606" stroke-width="1.9"/>
<circle cx="932.8" cy="65.8" r="2.7" fill="#b03a22" stroke="#140606" stroke-width="1.9"/>
<circle cx="942.0" cy="69.0" r="2.7" fill="#b03a22" stroke="#140606" stroke-width="1.9"/>
<g font-size="7.6" fill="#262626"><rect x="166.4" y="488.2" width="142.1" height="44.8" fill="#fff" stroke="#3a3a3a" stroke-width="0.8"/><rect x="184.7" y="494.10" width="1.8" height="1.8" fill="#000"/><path d="M170 506.00H201.7" stroke="#45d6e0" stroke-width="2.6"/><path d="M170 516.60H201.7" stroke="#a8261a" stroke-width="2.6"/><path d="M170 527.00H201.7" stroke="#bf2fbf" stroke-width="2.6"/><text x="203.6" y="497.70">Based on Pressure Change</text><text x="203.6" y="508.70">Based on Buoyancy and Pitch</text><text x="203.6" y="519.30">Upwelling on Descent</text><text x="203.6" y="529.70">Upwelling on Ascent</text></g>
</svg></body></html>
